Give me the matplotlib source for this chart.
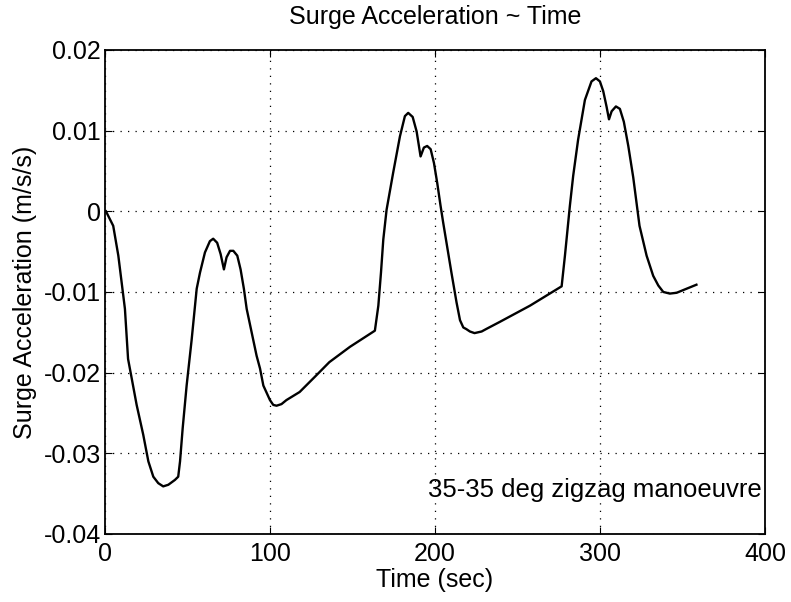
import numpy as np
import matplotlib.pyplot as plt

plt.rcParams['font.family'] = ['Liberation Sans', 'DejaVu Sans']

# 35-35 zigzag: time (sec) and surge acceleration (m/s/s)
time_s = [0.6, 5.0, 8.1, 10.1, 12.1, 14.0, 16.2, 19.2, 23.2, 26.3, 29.3, 32.3,
          35.3, 38.4, 42.4, 44.4, 45.5, 47.1, 49.5, 52.5, 55.6, 57.6, 60.6,
          63.6, 65.6, 68.0, 70.1, 72.1, 73.7, 75.8, 77.8, 80.2, 82.2, 84.2,
          85.9, 91.9, 94.0, 96.0, 100.0, 102.0, 104.0, 107.0, 110.0, 118.0,
          127.3, 136.0, 148.5, 163.6, 165.7, 167.3, 168.7, 170.7, 174.7,
          178.8, 181.8, 183.8, 186.5, 188.9, 191.3, 193.3, 195.3, 197.4,
          199.4, 201.4, 203.4, 205.0, 210.0, 213.1, 215.2, 217.2, 219.0,
          221.2, 224.0, 228.3, 231.0, 239.4, 257.6, 276.8, 278.8, 281.8,
          283.8, 286.8, 290.9, 294.9, 297.6, 300.0, 302.0, 304.0, 305.5,
          307.1, 309.7, 312.1, 314.5, 317.2, 320.2, 324.0, 328.3, 332.3,
          335.4, 338.4, 342.4, 346.5, 352.5, 358.5]
surge_acc = [0.0, -0.0018, -0.0055, -0.0088, -0.0121, -0.0183, -0.0207,
             -0.0240, -0.0277, -0.0310, -0.0329, -0.0337, -0.0341, -0.0339,
             -0.0333, -0.0329, -0.0310, -0.0269, -0.0216, -0.0160, -0.0096,
             -0.0076, -0.0051, -0.0037, -0.0034, -0.0039, -0.0053, -0.0072,
             -0.0057, -0.0049, -0.0049, -0.0055, -0.0072, -0.0096, -0.0121,
             -0.0179, -0.0195, -0.0216, -0.0234, -0.0240, -0.0241, -0.0239,
             -0.0234, -0.0224, -0.0205, -0.0187, -0.0168, -0.0148, -0.0117,
             -0.0076, -0.0035, 0.0002, 0.0048, 0.0093, 0.0118, 0.0122, 0.0117,
             0.0099, 0.0068, 0.0079, 0.0081, 0.0077, 0.0060, 0.0035, 0.0007,
             -0.0014, -0.0076, -0.0113, -0.0135, -0.0144, -0.0146, -0.0149,
             -0.0151, -0.0149, -0.0146, -0.0137, -0.0117, -0.0093, -0.0055,
             0.0007, 0.0044, 0.0089, 0.0138, 0.0161, 0.0165, 0.0161, 0.0149,
             0.0130, 0.0114, 0.0124, 0.0130, 0.0127, 0.0111, 0.0081, 0.0042,
             -0.0018, -0.0055, -0.0080, -0.0092, -0.0100, -0.0102, -0.0101,
             -0.0096, -0.0091]

x_ticks = [0, 100, 200, 300, 400]
y_ticks = [-0.04, -0.03, -0.02, -0.01, 0, 0.01, 0.02]
y_tick_labels = ['-0.04', '-0.03', '-0.02', '-0.01', '0', '0.01', '0.02']

fs = 18

fig = plt.figure(figsize=(7.91, 6.02), dpi=100)
ax = fig.add_axes([0.1327, 0.113, 0.8343, 0.804])

ax.plot(time_s, surge_acc, color='black', linewidth=1.7)

ax.set_xlim(0, 400)
ax.set_ylim(-0.04, 0.02)
ax.set_xticks(x_ticks)
ax.set_yticks(y_ticks)
ax.set_yticklabels(y_tick_labels)
ax.tick_params(direction='in', top=True, right=True, labelsize=fs, length=5)
ax.tick_params(axis='x', pad=6)
ax.tick_params(axis='y', pad=3)
ax.grid(True, color='black', linestyle=(0, (1, 5)), linewidth=0.9)
for sp in ax.spines.values():
    sp.set_linewidth(1.3)

ax.set_title('Surge Acceleration ~ Time', fontsize=fs, pad=19)
ax.set_xlabel('Time (sec)', fontsize=fs, labelpad=1)
ax.set_ylabel('Surge Acceleration (m/s/s)', fontsize=fs, labelpad=5)
ax.text(196, -0.0346, '35-35 deg zigzag manoeuvre', fontsize=18.5, va='center', ha='left')

fig.savefig('out.png', dpi=100)
